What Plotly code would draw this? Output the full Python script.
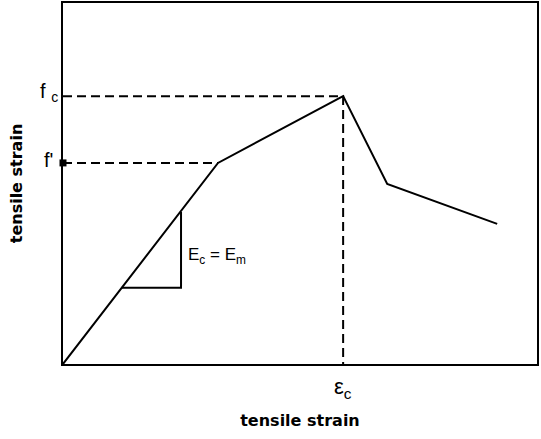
import plotly.graph_objects as go

# main curve (normalised units, 0-100 on both axes)
strain = [0, 32.7, 59.1, 68.4, 91.6]
stress = [0, 55.7, 74.2, 49.9, 38.8]

# slope triangle
tri_x = [12.4, 24.9, 24.9]
tri_y = [21.1, 21.1, 42.1]

# key points
eps_c = 59.1
f_c = 74.2
ft_x = 32.7
f_t = 55.7

fig = go.Figure()

fig.add_trace(go.Scatter(x=strain, y=stress, mode='lines',
                         line=dict(color='black', width=2)))
fig.add_trace(go.Scatter(x=tri_x, y=tri_y, mode='lines',
                         line=dict(color='black', width=2)))

# dashed guides
fig.add_trace(go.Scatter(x=[0, eps_c, eps_c], y=[f_c, f_c, 0], mode='lines',
                         line=dict(color='black', width=2, dash='9px,5px')))
fig.add_trace(go.Scatter(x=[0, ft_x], y=[f_t, f_t], mode='lines',
                         line=dict(color='black', width=2, dash='9px,5px')))
fig.add_trace(go.Scatter(x=[0], y=[f_t], mode='markers', cliponaxis=False,
                         marker=dict(symbol='square', size=7, color='black')))

lbl = dict(family='Liberation Sans', color='black')

fig.add_annotation(x=0, y=f_c, xref='x', yref='y', text='f <sub>c</sub>',
                   showarrow=False, xanchor='right', xshift=-3, yshift=4,
                   font=dict(size=20, **lbl))
fig.add_annotation(x=0, y=f_t, xref='x', yref='y', text="f'",
                   showarrow=False, xanchor='right', xshift=-8, yshift=3,
                   font=dict(size=20, **lbl))
fig.add_annotation(x=tri_x[1], y=(tri_y[0] + tri_y[2]) / 2, xref='x', yref='y',
                   text='E<sub>c</sub> = E<sub>m</sub>', showarrow=False,
                   xanchor='left', xshift=5, yshift=-6,
                   font=dict(size=17, **lbl))
fig.add_annotation(x=eps_c, y=0, xref='x', yref='y', text='ε<sub>c</sub>',
                   showarrow=False, yanchor='top', yshift=-8,
                   font=dict(size=22, **lbl))

ttl = dict(size=16, family='DejaVu Sans', color='black')
fig.update_xaxes(range=[0, 100], showline=True, mirror=True, linecolor='black',
                 linewidth=2, showgrid=False, zeroline=False, showticklabels=False,
                 ticks='', automargin=False,
                 title=dict(text='<b>tensile strain</b>', standoff=50, font=ttl))
fig.update_yaxes(range=[0, 100], showline=True, mirror=True, linecolor='black',
                 linewidth=2, showgrid=False, zeroline=False, showticklabels=False,
                 ticks='', automargin=False,
                 title=dict(text='<b>tensile strain</b>', standoff=34, font=ttl))

fig.update_layout(width=541, height=439,
                  margin=dict(l=63, r=4, t=3, b=75, autoexpand=False),
                  plot_bgcolor='white', paper_bgcolor='white',
                  showlegend=False)

fig.write_html("out.html", config={'displayModeBar': False},
               post_script="document.body.style.margin='0';")
